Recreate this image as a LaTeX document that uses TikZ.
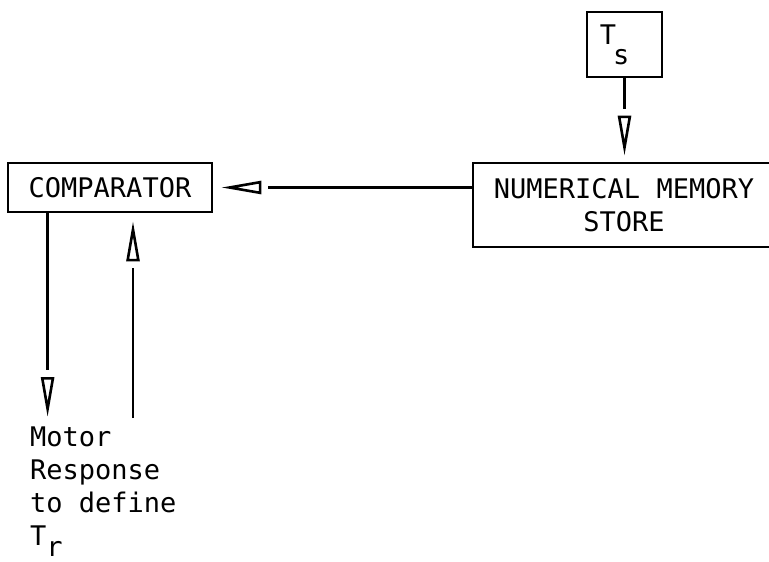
\documentclass[tikz,border=0pt]{standalone}
\usepackage{fontspec}
\setmonofont{DejaVu Sans Mono}
\usetikzlibrary{arrows.meta, positioning, calc, decorations.markings}
\tikzset{
    box/.style={
        rectangle, draw, line width=2.8pt,
        inner sep=0pt, align=center,
        font=\ttfamily\fontsize{27}{33}\selectfont
    },
    motortext/.style={inner sep=0pt, align=left, font=\ttfamily\fontsize{27}{33}\selectfont},
    % open head, set off from the line by a small gap
    arrow/.style={line width=2.8pt, shorten >=#1+47pt,
        postaction={decorate, decoration={markings,
            mark=at position -#1 with {\arrow[line width=2.6pt]{Triangle[open, length=40pt, width=13pt]}}}}}
}
\begin{document}
\begin{tikzpicture}[x=1pt, y=1pt]
        \clip (0,0) rectangle (769,-562);
        \node (comp) [box, minimum width=204pt, minimum height=49pt] at (110,-187.5) {COMPARATOR};
        \node (mem) [box, minimum width=302pt, minimum height=84pt] at (624,-205) {NUMERICAL MEMORY\\STORE};
        \node (ts) [box, minimum width=75pt, minimum height=65pt] at (624.5,-44.5) {T\kern-3pt\raisebox{-20pt}{s}\hspace*{20pt}};
        \node (motor) [motortext, anchor=north west] at (30,-427) {Motor\\Response\\to define\\T\raisebox{-11pt}{r}};
        \coordinate (resp) at (133,-418);

        \draw [arrow=8pt] (comp.east -| mem.west) -- (comp.east);
        \draw [arrow=6pt] (ts.south) -- (ts.south |- mem.north);
        \draw [arrow=10pt] ([xshift=41pt]comp.south west) -- ([xshift=41pt]comp.south west |- motor.north);
        \draw [arrow=8pt] (resp) -- (resp |- comp.south);
    \end{tikzpicture}
\end{document}
